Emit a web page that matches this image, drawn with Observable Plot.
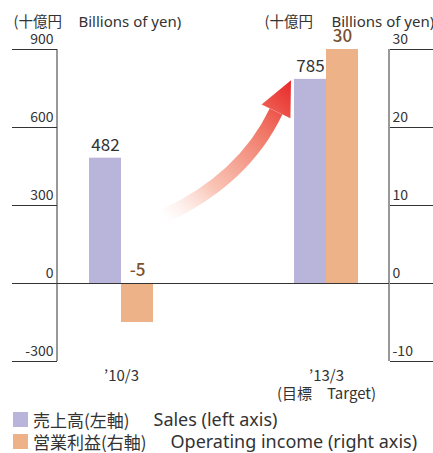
<!DOCTYPE html>
<html><head><meta charset="utf-8">
<script src="https://cdn.jsdelivr.net/npm/d3@7"></script>
<script src="https://cdn.jsdelivr.net/npm/@observablehq/plot@0.6"></script>
<style>
body{margin:0;background:#fff;font-family:"Noto Sans CJK JP","Noto Sans",sans-serif;color:#333;}
#legend{padding-left:13px;padding-top:2px;}
#legend .row{height:22px;white-space:nowrap;display:flex;align-items:center;}
#legend .sw{display:inline-block;width:15px;height:15px;margin-right:5px;flex:none;}
#legend .ja{font-size:17px;}
#legend .en{font-size:18px;margin-left:24px;font-family:"Noto Sans","Noto Sans CJK JP",sans-serif;}
</style></head><body><div id="chart"></div><div id="legend"></div>
<script>
const periods = ["’10/3", "’13/3"];
const periodLabels = ["’10/3", "’13/3\n(目標　Target)"];
const sales = [482, 785];
const operatingIncome = [-5, 30];
const leftTicks = [-300, 0, 300, 600, 900];
const rightTicks = [-10, 0, 10, 20, 30];
const unitJa = "(十億円";
const unitEn = "Billions of yen)";
const legendJa = ["売上高(左軸)", "営業利益(右軸)"];
const legendEn = ["Sales (left axis)", "Operating income (right axis)"];
const colors = ["#b9b4d9", "#edb287"];
const ratio = 900 / 30;

const salesData = periods.map((p, i) => ({period: p, value: sales[i]}));
const opData = periods.map((p, i) => ({period: p, value: operatingIncome[i], scaled: operatingIncome[i] * ratio}));

const W = 433, H = 406;
const font = '"Noto Sans CJK JP","Noto Sans",sans-serif';
const fontEn = '"Noto Sans","Noto Sans CJK JP",sans-serif';
const plot = Plot.plot({
  width: W, height: H,
  marginLeft: 57, marginRight: 44, marginTop: 49, marginBottom: H - 361,
  style: {fontFamily: font, fontSize: "14px", color: "#333", background: "#fff"},
  x: {domain: periods, paddingInner: 0.6893, paddingOuter: 0.1505, align: 0.5, axis: null},
  y: {domain: [-300, 900], axis: null},
  marks: [
    Plot.barY(salesData, {x: "period", y: "value", fill: colors[0], insetLeft: 0, insetRight: 32}),
    Plot.barY(opData, {x: "period", y: "scaled", fill: colors[1], insetLeft: 32, insetRight: 0}),
    Plot.ruleY([0], {stroke: "#333", strokeWidth: 1}),
    Plot.axisY(leftTicks, {anchor: "left", tickSize: 45, tickFormat: () => "", label: null, stroke: "#333"}),
    Plot.axisY(leftTicks, {anchor: "left", tickSize: 0, tickPadding: 4, dy: -10, label: null, fontSize: 14, fill: "#333",
      tickFormat: d => String(d)}),
    Plot.axisY(leftTicks, {anchor: "right", tickSize: 44, tickFormat: () => "", label: null, stroke: "#333"}),
    Plot.axisY(leftTicks, {anchor: "right", tickSize: 0, tickPadding: 3, dy: -10, label: null, fontSize: 14, fill: "#333",
      tickFormat: d => String(rightTicks[leftTicks.indexOf(d)])}),
    Plot.axisX(periods, {anchor: "bottom", tickSize: 0, tickPadding: 7, label: null, fontSize: 15, lineHeight: 1.2, fill: "#333",
      tickFormat: d => periodLabels[periods.indexOf(d)]}),
    Plot.text(salesData, {x: "period", y: "value", text: d => String(d.value), dx: -16, dy: -13, fill: "#333", fontSize: 17}),
    Plot.text(opData, {x: "period", y: d => Math.max(0, d.scaled), text: d => String(d.value), dx: 16, dy: -13, fill: "#7a5230", fontSize: 17, fontWeight: 500}),
    Plot.text([unitJa], {frameAnchor: "top-left", text: d => d, dx: -44, dy: -33, textAnchor: "start", fontSize: 14.5, fill: "#333"}),
    Plot.text([unitEn], {frameAnchor: "top-left", text: d => d, dx: 21, dy: -33, textAnchor: "start", fontSize: 15, fill: "#333", fontFamily: fontEn}),
    Plot.text([unitJa], {frameAnchor: "top-right", text: d => d, dx: -125, dy: -33, textAnchor: "start", fontSize: 14.5, fill: "#333"}),
    Plot.text([unitEn], {frameAnchor: "top-right", text: d => d, dx: -58, dy: -33, textAnchor: "start", fontSize: 15, fill: "#333", fontFamily: fontEn})
  ]
});
document.getElementById("chart").appendChild(plot);

// axis lines and decorative arrow, positioned through the plot's scales
const sx = plot.scale("x"), sy = plot.scale("y");
const [x0, x1] = sx.range;
const svg = d3.select(plot);
[x0, x1].forEach(x => svg.append("line").attr("x1", x).attr("x2", x)
  .attr("y1", sy.apply(900)).attr("y2", sy.apply(-300)).attr("stroke", "#333"));

const b1 = sx.apply(periods[0]), b2 = sx.apply(periods[1]);
const tail = [b1 + 74, sy.apply(255)];
const ctrl = [b2 - 50, sy.apply(400)];
const base = [b2 - 18, sy.apply(660)];
const tip = [b2 - 3, sy.apply(780)];
const defs = svg.append("defs");
const g = defs.append("linearGradient").attr("id", "arrowGrad").attr("gradientUnits", "userSpaceOnUse")
  .attr("x1", tail[0]).attr("y1", tail[1]).attr("x2", tip[0]).attr("y2", tip[1]);
g.append("stop").attr("offset", "0").attr("stop-color", "#fcd9cf").attr("stop-opacity", 0);
g.append("stop").attr("offset", "0.3").attr("stop-color", "#f8b9a8").attr("stop-opacity", 0.85);
g.append("stop").attr("offset", "0.7").attr("stop-color", "#f07766").attr("stop-opacity", 1);
g.append("stop").attr("offset", "1").attr("stop-color", "#e8282a").attr("stop-opacity", 1);
svg.append("path").attr("d", `M${tail}Q${ctrl} ${base}`).attr("fill", "none")
  .attr("stroke", "url(#arrowGrad)").attr("stroke-width", 14);
const dxh = tip[0] - base[0], dyh = tip[1] - base[1], len = Math.hypot(dxh, dyh);
const nx = -dyh / len, ny = dxh / len, hw = 16;
svg.append("path").attr("d", `M${tip}L${base[0] + nx * hw},${base[1] + ny * hw}L${base[0] - nx * hw},${base[1] - ny * hw}Z`)
  .attr("fill", "url(#arrowGrad)");

const legend = document.getElementById("legend");
legendJa.forEach((t, i) => {
  const row = document.createElement("div"); row.className = "row";
  const sw = document.createElement("span"); sw.className = "sw"; sw.style.background = colors[i];
  const ja = document.createElement("span"); ja.className = "ja"; ja.textContent = t;
  const en = document.createElement("span"); en.className = "en"; en.textContent = legendEn[i];
  row.appendChild(sw); row.appendChild(ja); row.appendChild(en); legend.appendChild(row);
});
</script></body></html>
